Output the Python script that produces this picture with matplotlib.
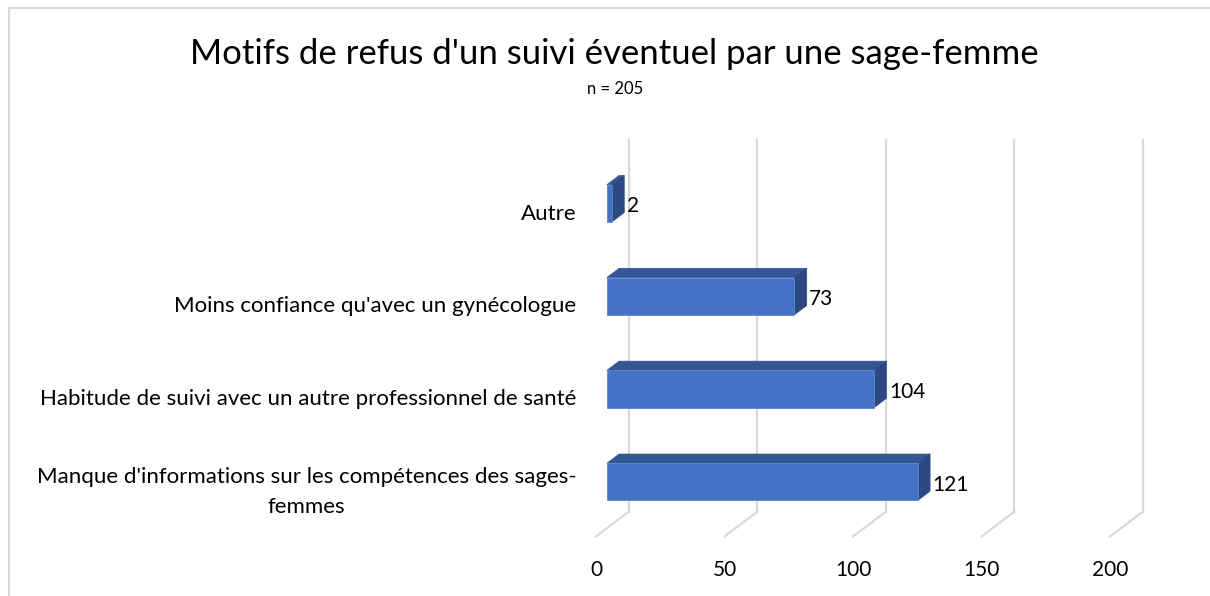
import numpy as np
import matplotlib.pyplot as plt
import matplotlib.transforms as mtransforms
from matplotlib.patches import Polygon
from matplotlib.lines import Line2D

# Données
categories = ["Manque d'informations sur les compétences des sages-\nfemmes",
              "Habitude de suivi avec un autre professionnel de santé",
              "Moins confiance qu'avec un gynécologue",
              "Autre"]
valeurs = [121, 104, 73, 2]
ticks = [0, 50, 100, 150, 200]

titre = "Motifs de refus d'un suivi éventuel par une sage-femme"
sous_titre = "n = 205"

plt.rcParams['font.family'] = ['Lato', 'DejaVu Sans']

# Effet 3D : décalage en profondeur (unités de données)
DX = 12.84   # sur l'axe des valeurs
DY = 0.269   # sur l'axe des catégories
d1, d2 = 0.33, 0.70   # face avant / arrière des barres
h = 0.40

face = '#4472C4'
dessus = '#345694'
cote = '#2B4880'
grille = '#D9D9D9'

fig = plt.figure(figsize=(12.1, 5.96), dpi=100)
ax = fig.add_axes([596 / 1210, 1 - 536.5 / 596, 514 / 1210, 396.5 / 596])
ax.set_xlim(0, 200)
ax.set_ylim(-0.5, 3.77)

y = np.arange(len(categories))

# Quadrillage : mur du fond + sol
for t in ticks:
    ax.plot([t, t + DX], [-0.5, -0.5 + DY], color=grille, lw=1.6, clip_on=False, zorder=1)
    ax.plot([t + DX, t + DX], [-0.5 + DY, 3.77], color=grille, lw=1.6, clip_on=False, zorder=1)

# Barres
ax.barh(y + d1 * DY, valeurs, left=d1 * DX, height=h, color=face,
        edgecolor='#5B85CF', linewidth=0.6, zorder=3)
for yi, v in zip(y, valeurs):
    bas, haut = yi - h / 2, yi + h / 2
    top = Polygon([(d1 * DX, haut + d1 * DY), (v + d1 * DX, haut + d1 * DY),
                   (v + d2 * DX, haut + d2 * DY), (d2 * DX, haut + d2 * DY)],
                  closed=True, facecolor=dessus, edgecolor=dessus, lw=0.5, zorder=2)
    side = Polygon([(v + d1 * DX, bas + d1 * DY), (v + d1 * DX, haut + d1 * DY),
                    (v + d2 * DX, haut + d2 * DY), (v + d2 * DX, bas + d2 * DY)],
                   closed=True, facecolor=cote, edgecolor=cote, lw=0.5, zorder=2)
    ax.add_patch(top)
    ax.add_patch(side)
    ax.text(v + d2 * DX + 1.0, yi + d1 * DY - 0.03, str(v), ha='left', va='center',
            fontsize=15, color='black', zorder=4)

ax.set_yticks(y)
ax.set_yticklabels(categories, fontsize=16, multialignment='center', linespacing=1.65)
ax.set_xticks(ticks)
ax.set_xticklabels([str(t) for t in ticks], fontsize=15)
ax.tick_params(length=0)
ax.tick_params(axis='x', pad=17)
ax.tick_params(axis='y', pad=14)
for s in ax.spines.values():
    s.set_visible(False)
ax.patch.set_alpha(0)

# étiquette sur deux lignes légèrement remontée
lab = ax.get_yticklabels()[0]
lab.set_transform(lab.get_transform() + mtransforms.ScaledTranslation(0, 5 / 100, fig.dpi_scale_trans))

fig.text(0.508, 1 - 54 / 596, titre, ha='center', va='center', fontsize=25)
fig.text(0.508, 1 - 89 / 596, sous_titre, ha='center', va='center', fontsize=12)

# Cadre du graphique
fig.add_artist(Line2D([9 / 1210, 9 / 1210], [0, 1 - 8 / 596], color=grille, lw=1.5))
fig.add_artist(Line2D([9 / 1210, 1], [1 - 8 / 596, 1 - 8 / 596], color=grille, lw=1.5))

fig.savefig('out.png', dpi=100)
